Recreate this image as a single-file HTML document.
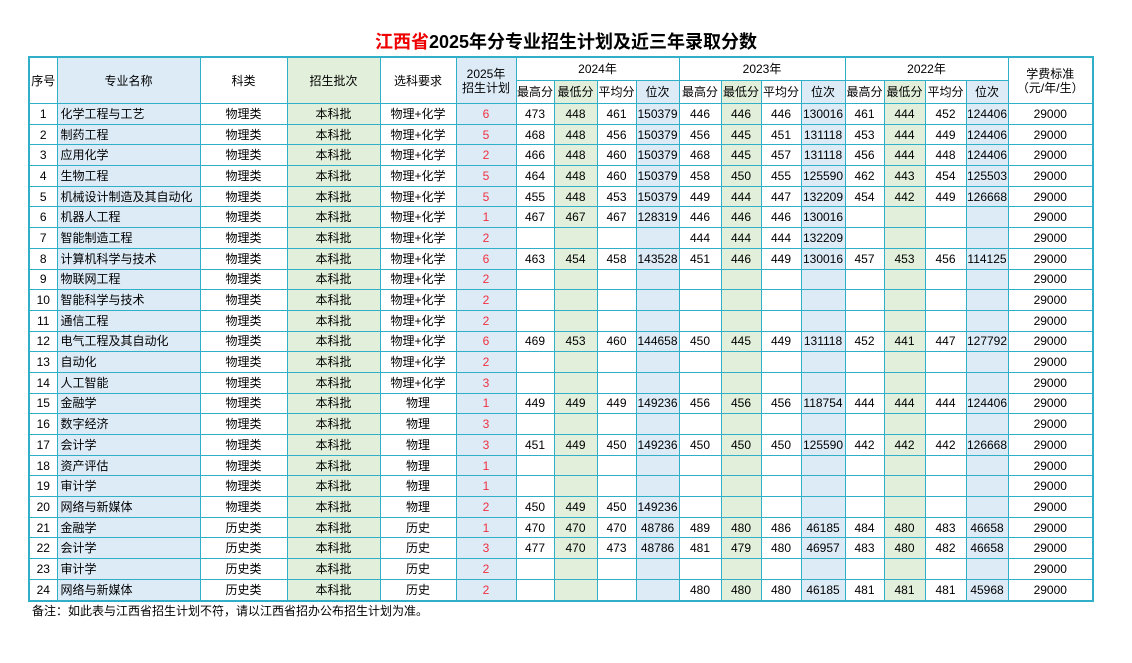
<!DOCTYPE html>
<html><head><meta charset="utf-8"><style>
body{margin:0;width:1132px;height:663px;background:#fff;font-family:"Liberation Sans","Noto Sans CJK SC",sans-serif;position:relative;overflow:hidden}
.t{position:absolute;top:28px;left:0;width:1132px;text-align:center;font-size:18px;font-weight:bold;color:#000}
.t span{color:#e00}
table{position:absolute;left:28px;top:56px;border-collapse:collapse;table-layout:fixed;border:2.5px solid #2fb0c8;font-size:12px;color:#000}
td{border:1px solid #2fb0c8;text-align:center;padding:0;height:19.7px;white-space:nowrap;overflow:hidden;line-height:14px}
td.n{text-align:left;padding-left:3px;background:#ddebf7}
.b{background:#ddebf7}.g{background:#e2efda}
.r{color:#f03040;background:#ddebf7}
.hd td{height:22px}
.fn{position:absolute;left:32px;top:602px;font-size:12px;color:#000}
</style></head><body>
<div class="t"><span>江西省</span>2025年分专业招生计划及近三年录取分数</div>
<table>
<colgroup><col style="width:28px"><col style="width:143px"><col style="width:87px"><col style="width:93px"><col style="width:76px"><col style="width:60px"><col style="width:38px"><col style="width:43px"><col style="width:39px"><col style="width:43px"><col style="width:42px"><col style="width:40px"><col style="width:40px"><col style="width:44px"><col style="width:39px"><col style="width:41px"><col style="width:41px"><col style="width:42px"><col style="width:85px"></colgroup>
<tr class="hd"><td rowspan="2">序号</td><td rowspan="2" class="b">专业名称</td><td rowspan="2">科类</td><td rowspan="2" class="g">招生批次</td><td rowspan="2">选科要求</td><td rowspan="2" class="b">2025年<br>招生计划</td><td colspan="4">2024年</td><td colspan="4">2023年</td><td colspan="4">2022年</td><td rowspan="2">学费标准<br>（元/年/生）</td></tr>
<tr class="hd"><td>最高分</td><td class="g">最低分</td><td>平均分</td><td class="b">位次</td><td>最高分</td><td class="g">最低分</td><td>平均分</td><td class="b">位次</td><td>最高分</td><td class="g">最低分</td><td>平均分</td><td class="b">位次</td></tr>
<tr><td>1</td><td class="n">化学工程与工艺</td><td>物理类</td><td class="g">本科批</td><td>物理+化学</td><td class="r">6</td><td>473</td><td class="g">448</td><td>461</td><td class="b">150379</td><td>446</td><td class="g">446</td><td>446</td><td class="b">130016</td><td>461</td><td class="g">444</td><td>452</td><td class="b">124406</td><td>29000</td></tr>
<tr><td>2</td><td class="n">制药工程</td><td>物理类</td><td class="g">本科批</td><td>物理+化学</td><td class="r">5</td><td>468</td><td class="g">448</td><td>456</td><td class="b">150379</td><td>456</td><td class="g">445</td><td>451</td><td class="b">131118</td><td>453</td><td class="g">444</td><td>449</td><td class="b">124406</td><td>29000</td></tr>
<tr><td>3</td><td class="n">应用化学</td><td>物理类</td><td class="g">本科批</td><td>物理+化学</td><td class="r">2</td><td>466</td><td class="g">448</td><td>460</td><td class="b">150379</td><td>468</td><td class="g">445</td><td>457</td><td class="b">131118</td><td>456</td><td class="g">444</td><td>448</td><td class="b">124406</td><td>29000</td></tr>
<tr><td>4</td><td class="n">生物工程</td><td>物理类</td><td class="g">本科批</td><td>物理+化学</td><td class="r">5</td><td>464</td><td class="g">448</td><td>460</td><td class="b">150379</td><td>458</td><td class="g">450</td><td>455</td><td class="b">125590</td><td>462</td><td class="g">443</td><td>454</td><td class="b">125503</td><td>29000</td></tr>
<tr><td>5</td><td class="n">机械设计制造及其自动化</td><td>物理类</td><td class="g">本科批</td><td>物理+化学</td><td class="r">5</td><td>455</td><td class="g">448</td><td>453</td><td class="b">150379</td><td>449</td><td class="g">444</td><td>447</td><td class="b">132209</td><td>454</td><td class="g">442</td><td>449</td><td class="b">126668</td><td>29000</td></tr>
<tr><td>6</td><td class="n">机器人工程</td><td>物理类</td><td class="g">本科批</td><td>物理+化学</td><td class="r">1</td><td>467</td><td class="g">467</td><td>467</td><td class="b">128319</td><td>446</td><td class="g">446</td><td>446</td><td class="b">130016</td><td></td><td class="g"></td><td></td><td class="b"></td><td>29000</td></tr>
<tr><td>7</td><td class="n">智能制造工程</td><td>物理类</td><td class="g">本科批</td><td>物理+化学</td><td class="r">2</td><td></td><td class="g"></td><td></td><td class="b"></td><td>444</td><td class="g">444</td><td>444</td><td class="b">132209</td><td></td><td class="g"></td><td></td><td class="b"></td><td>29000</td></tr>
<tr><td>8</td><td class="n">计算机科学与技术</td><td>物理类</td><td class="g">本科批</td><td>物理+化学</td><td class="r">6</td><td>463</td><td class="g">454</td><td>458</td><td class="b">143528</td><td>451</td><td class="g">446</td><td>449</td><td class="b">130016</td><td>457</td><td class="g">453</td><td>456</td><td class="b">114125</td><td>29000</td></tr>
<tr><td>9</td><td class="n">物联网工程</td><td>物理类</td><td class="g">本科批</td><td>物理+化学</td><td class="r">2</td><td></td><td class="g"></td><td></td><td class="b"></td><td></td><td class="g"></td><td></td><td class="b"></td><td></td><td class="g"></td><td></td><td class="b"></td><td>29000</td></tr>
<tr><td>10</td><td class="n">智能科学与技术</td><td>物理类</td><td class="g">本科批</td><td>物理+化学</td><td class="r">2</td><td></td><td class="g"></td><td></td><td class="b"></td><td></td><td class="g"></td><td></td><td class="b"></td><td></td><td class="g"></td><td></td><td class="b"></td><td>29000</td></tr>
<tr><td>11</td><td class="n">通信工程</td><td>物理类</td><td class="g">本科批</td><td>物理+化学</td><td class="r">2</td><td></td><td class="g"></td><td></td><td class="b"></td><td></td><td class="g"></td><td></td><td class="b"></td><td></td><td class="g"></td><td></td><td class="b"></td><td>29000</td></tr>
<tr><td>12</td><td class="n">电气工程及其自动化</td><td>物理类</td><td class="g">本科批</td><td>物理+化学</td><td class="r">6</td><td>469</td><td class="g">453</td><td>460</td><td class="b">144658</td><td>450</td><td class="g">445</td><td>449</td><td class="b">131118</td><td>452</td><td class="g">441</td><td>447</td><td class="b">127792</td><td>29000</td></tr>
<tr><td>13</td><td class="n">自动化</td><td>物理类</td><td class="g">本科批</td><td>物理+化学</td><td class="r">2</td><td></td><td class="g"></td><td></td><td class="b"></td><td></td><td class="g"></td><td></td><td class="b"></td><td></td><td class="g"></td><td></td><td class="b"></td><td>29000</td></tr>
<tr><td>14</td><td class="n">人工智能</td><td>物理类</td><td class="g">本科批</td><td>物理+化学</td><td class="r">3</td><td></td><td class="g"></td><td></td><td class="b"></td><td></td><td class="g"></td><td></td><td class="b"></td><td></td><td class="g"></td><td></td><td class="b"></td><td>29000</td></tr>
<tr><td>15</td><td class="n">金融学</td><td>物理类</td><td class="g">本科批</td><td>物理</td><td class="r">1</td><td>449</td><td class="g">449</td><td>449</td><td class="b">149236</td><td>456</td><td class="g">456</td><td>456</td><td class="b">118754</td><td>444</td><td class="g">444</td><td>444</td><td class="b">124406</td><td>29000</td></tr>
<tr><td>16</td><td class="n">数字经济</td><td>物理类</td><td class="g">本科批</td><td>物理</td><td class="r">3</td><td></td><td class="g"></td><td></td><td class="b"></td><td></td><td class="g"></td><td></td><td class="b"></td><td></td><td class="g"></td><td></td><td class="b"></td><td>29000</td></tr>
<tr><td>17</td><td class="n">会计学</td><td>物理类</td><td class="g">本科批</td><td>物理</td><td class="r">3</td><td>451</td><td class="g">449</td><td>450</td><td class="b">149236</td><td>450</td><td class="g">450</td><td>450</td><td class="b">125590</td><td>442</td><td class="g">442</td><td>442</td><td class="b">126668</td><td>29000</td></tr>
<tr><td>18</td><td class="n">资产评估</td><td>物理类</td><td class="g">本科批</td><td>物理</td><td class="r">1</td><td></td><td class="g"></td><td></td><td class="b"></td><td></td><td class="g"></td><td></td><td class="b"></td><td></td><td class="g"></td><td></td><td class="b"></td><td>29000</td></tr>
<tr><td>19</td><td class="n">审计学</td><td>物理类</td><td class="g">本科批</td><td>物理</td><td class="r">1</td><td></td><td class="g"></td><td></td><td class="b"></td><td></td><td class="g"></td><td></td><td class="b"></td><td></td><td class="g"></td><td></td><td class="b"></td><td>29000</td></tr>
<tr><td>20</td><td class="n">网络与新媒体</td><td>物理类</td><td class="g">本科批</td><td>物理</td><td class="r">2</td><td>450</td><td class="g">449</td><td>450</td><td class="b">149236</td><td></td><td class="g"></td><td></td><td class="b"></td><td></td><td class="g"></td><td></td><td class="b"></td><td>29000</td></tr>
<tr><td>21</td><td class="n">金融学</td><td>历史类</td><td class="g">本科批</td><td>历史</td><td class="r">1</td><td>470</td><td class="g">470</td><td>470</td><td class="b">48786</td><td>489</td><td class="g">480</td><td>486</td><td class="b">46185</td><td>484</td><td class="g">480</td><td>483</td><td class="b">46658</td><td>29000</td></tr>
<tr><td>22</td><td class="n">会计学</td><td>历史类</td><td class="g">本科批</td><td>历史</td><td class="r">3</td><td>477</td><td class="g">470</td><td>473</td><td class="b">48786</td><td>481</td><td class="g">479</td><td>480</td><td class="b">46957</td><td>483</td><td class="g">480</td><td>482</td><td class="b">46658</td><td>29000</td></tr>
<tr><td>23</td><td class="n">审计学</td><td>历史类</td><td class="g">本科批</td><td>历史</td><td class="r">2</td><td></td><td class="g"></td><td></td><td class="b"></td><td></td><td class="g"></td><td></td><td class="b"></td><td></td><td class="g"></td><td></td><td class="b"></td><td>29000</td></tr>
<tr><td>24</td><td class="n">网络与新媒体</td><td>历史类</td><td class="g">本科批</td><td>历史</td><td class="r">2</td><td></td><td class="g"></td><td></td><td class="b"></td><td>480</td><td class="g">480</td><td>480</td><td class="b">46185</td><td>481</td><td class="g">481</td><td>481</td><td class="b">45968</td><td>29000</td></tr>
</table>
<div class="fn">备注：如此表与江西省招生计划不符，请以江西省招办公布招生计划为准。</div>
</body></html>
